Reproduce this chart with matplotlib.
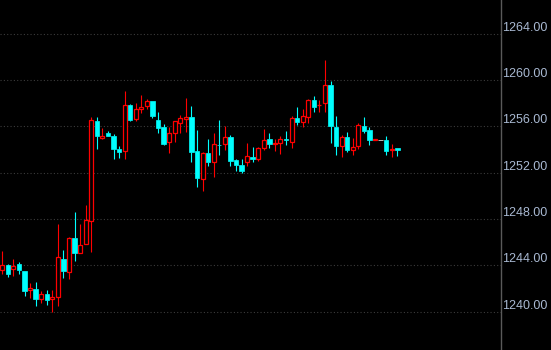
import matplotlib
matplotlib.use("Agg")
import matplotlib.pyplot as plt
import numpy as np

# candle values (open, high, low, close)
opens = [1243.60, 1244.03, 1243.69, 1244.12, 1243.51, 1241.85, 1241.93, 1241.12, 1241.50, 1241.07,
         1241.30, 1244.55, 1243.45, 1246.34, 1245.04, 1245.82, 1247.80, 1256.47, 1255.03, 1255.43,
         1255.17, 1254.05, 1253.85, 1257.85, 1256.67, 1257.48, 1257.74, 1258.20, 1256.55, 1255.95,
         1254.63, 1255.40, 1256.32, 1256.64, 1256.82, 1253.88, 1251.49, 1253.73, 1252.90, 1254.42,
         1254.46, 1255.06, 1253.10, 1252.67, 1252.95, 1253.39, 1253.19, 1254.16, 1254.92, 1254.50,
         1254.54, 1254.90, 1254.68, 1256.73, 1256.41, 1256.84, 1258.28, 1257.82, 1258.00, 1259.58,
         1255.92, 1254.34, 1255.06, 1253.99, 1254.34, 1256.04, 1255.69, 1254.87, 1254.83, 1254.83,
         1254.00, 1254.10]
highs = [1245.22, 1244.12, 1244.55, 1244.29, 1243.55, 1242.45, 1242.56, 1241.76, 1241.87, 1241.87,
         1247.57, 1245.33, 1246.48, 1248.61, 1247.57, 1249.20, 1256.79, 1256.79, 1255.84, 1255.60,
         1255.35, 1254.31, 1259.08, 1257.94, 1258.00, 1258.71, 1258.34, 1258.20, 1257.27, 1256.21,
         1255.92, 1256.50, 1256.99, 1258.43, 1257.74, 1255.69, 1253.82, 1254.89, 1255.40, 1256.55,
         1256.04, 1255.26, 1253.19, 1253.16, 1254.54, 1254.20, 1254.20, 1255.78, 1255.43, 1254.89,
         1255.17, 1255.63, 1256.93, 1257.70, 1257.50, 1258.37, 1258.63, 1258.28, 1261.74, 1259.92,
         1256.90, 1255.26, 1255.52, 1255.03, 1256.27, 1256.82, 1255.92, 1254.89, 1254.83, 1255.17,
         1254.48, 1254.10]
lows = [1243.23, 1243.02, 1243.11, 1243.26, 1241.38, 1241.16, 1240.52, 1240.73, 1240.60, 1240.00,
        1240.49, 1242.94, 1242.82, 1244.40, 1245.04, 1245.82, 1245.18, 1254.08, 1254.91, 1255.20,
        1253.21, 1253.30, 1253.21, 1256.47, 1256.47, 1257.13, 1257.48, 1256.75, 1255.41, 1254.40,
        1253.68, 1254.63, 1255.46, 1255.54, 1252.95, 1250.79, 1250.45, 1252.58, 1251.66, 1253.53,
        1253.96, 1252.61, 1252.18, 1251.95, 1252.61, 1252.95, 1253.04, 1253.96, 1254.16, 1253.90,
        1253.62, 1254.40, 1254.16, 1256.12, 1255.92, 1256.32, 1257.25, 1257.27, 1257.27, 1254.57,
        1253.53, 1253.33, 1253.82, 1253.53, 1254.05, 1255.40, 1254.40, 1254.87, 1254.83, 1253.53,
        1253.33, 1253.45]
closes = [1244.01, 1243.26, 1243.92, 1243.60, 1241.81, 1242.02, 1241.07, 1241.50, 1241.01, 1241.24,
          1244.70, 1243.54, 1246.34, 1245.10, 1245.73, 1247.89, 1256.55, 1255.20, 1255.17, 1255.20,
          1254.08, 1253.82, 1257.82, 1256.53, 1257.48, 1257.65, 1258.20, 1256.93, 1255.84, 1254.50,
          1255.40, 1256.44, 1256.70, 1256.79, 1253.82, 1251.57, 1253.68, 1252.95, 1254.46, 1254.38,
          1255.06, 1253.04, 1252.67, 1252.18, 1253.45, 1253.19, 1254.16, 1254.83, 1254.50, 1254.54,
          1254.92, 1254.85, 1256.73, 1256.41, 1256.90, 1258.28, 1257.70, 1257.85, 1259.58, 1256.06,
          1254.34, 1255.06, 1253.97, 1254.20, 1256.12, 1255.60, 1254.83, 1254.89, 1254.83, 1253.90,
          1254.03, 1253.96]
yticks = [1240, 1244, 1248, 1252, 1256, 1260, 1264]

o = np.array(opens)
h = np.array(highs)
l = np.array(lows)
c = np.array(closes)
x = np.arange(len(o))

fig = plt.figure(figsize=(5.51, 3.5), dpi=100, facecolor="black")
ax = fig.add_axes([0, 0, 501 / 551, 1], facecolor="black")

up = c > o
down = c < o
flat = c == o
cols = np.where(up, "#ff0000", np.where(down, "#00ffff", "#ffffff"))

body_lo = np.minimum(o, c)
body_hi = np.maximum(o, c)

# wicks (drawn outside the body so hollow bodies stay hollow)
ax.vlines(x, l, body_lo, color=cols, lw=0.8, zorder=2)
ax.vlines(x, body_hi, h, color=cols, lw=0.8, zorder=2)

hgt = np.maximum(body_hi - body_lo, 0.04)
ax.bar(x[up], hgt[up], bottom=body_lo[up], width=0.72, facecolor="black",
       edgecolor="#ff0000", linewidth=0.9, zorder=3)
ax.bar(x[down], hgt[down], bottom=body_lo[down], width=0.8, facecolor="#00ffff",
       edgecolor="#00ffff", linewidth=0.5, zorder=3)
ax.bar(x[flat], hgt[flat], bottom=body_lo[flat], width=0.8, facecolor="#ffffff",
       edgecolor="#ffffff", linewidth=0.5, zorder=3)

ax.set_xlim(-0.41, 89.64)
ax.set_ylim(1236.69, 1266.92)

ax.set_yticks(yticks)
ax.set_yticklabels(["%.2f" % v for v in yticks])
ax.yaxis.tick_right()
ax.tick_params(axis="y", length=0, pad=1, labelsize=9, labelcolor="#a9b9d2")
for lbl in ax.get_yticklabels():
    lbl.set_family("Liberation Sans")
    lbl.set_va("bottom")
ax.set_xticks([])
ax.grid(axis="y", color="#3c3c3c", linestyle=(0, (1, 2)), linewidth=0.8, zorder=0)

for s in ["top", "bottom", "left"]:
    ax.spines[s].set_visible(False)
ax.spines["right"].set_color("#5a5a5a")
ax.spines["right"].set_linewidth(1)

fig.savefig("out.png", dpi=100, facecolor="black")
